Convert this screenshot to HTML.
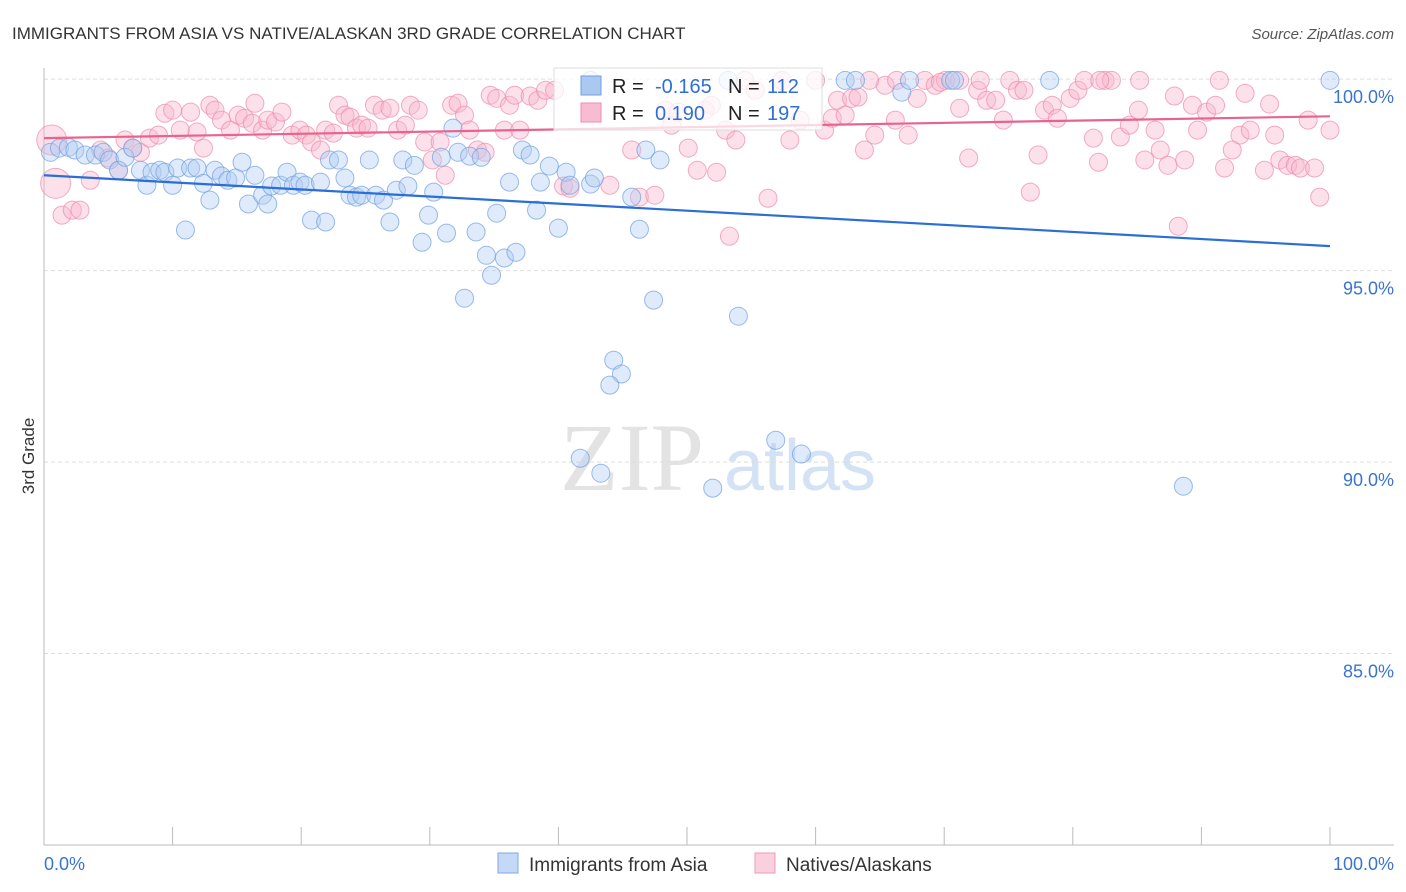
<!DOCTYPE html>
<html><head><meta charset="utf-8"><style>
body{margin:0;background:#fff;font-family:"Liberation Sans",sans-serif;}
#wrap{position:relative;width:1406px;height:892px;overflow:hidden;}
</style></head><body>
<div id="wrap">
<svg id="chart" width="1406" height="892" xmlns="http://www.w3.org/2000/svg">
<text x="12" y="39" font-size="17" fill="#333">IMMIGRANTS FROM ASIA VS NATIVE/ALASKAN 3RD GRADE CORRELATION CHART</text>
<text x="1394" y="39" font-size="15" fill="#555" text-anchor="end" font-style="italic">Source: ZipAtlas.com</text>
<text x="34" y="456" font-size="17" fill="#333" text-anchor="middle" transform="rotate(-90 34 456)">3rd Grade</text>
<g><text x="632" y="490" font-size="96" fill="#ddd" font-family="Liberation Serif,serif" text-anchor="middle" opacity="0.8">ZIP</text><text x="800" y="490" font-size="72" fill="#c9dcf2" text-anchor="middle" opacity="0.8">atlas</text></g>
<g id="grid"></g><g id="axes"></g><g id="pts"></g><g id="lines"></g>
<g>
<rect x="554" y="68" width="268" height="62" fill="#fff" fill-opacity="0.75" stroke="#ddd"/>
<rect x="581" y="76" width="20" height="19" fill="#aac8f0" stroke="#6f9fe0"/>
<text x="612" y="93" font-size="20" fill="#222">R = </text><text x="655" y="93" font-size="20" fill="#2f6fd6">-0.165</text>
<text x="728" y="93" font-size="20" fill="#222">N = </text><text x="767" y="93" font-size="20" fill="#2f6fd6">112</text>
<rect x="581" y="103" width="20" height="19" fill="#f8bcd0" stroke="#ef8bab"/>
<text x="612" y="120" font-size="20" fill="#222">R = </text><text x="655" y="120" font-size="20" fill="#2f6fd6">0.190</text>
<text x="728" y="120" font-size="20" fill="#222">N = </text><text x="767" y="120" font-size="20" fill="#2f6fd6">197</text>
</g>
<g>
<rect x="498" y="853" width="20" height="20" fill="#c4d9f5" stroke="#7fa8e3"/>
<text x="529" y="871" font-size="19" fill="#333">Immigrants from Asia</text>
<rect x="755" y="853" width="20" height="20" fill="#fbd0de" stroke="#ef9ab5"/>
<text x="786" y="871" font-size="19" fill="#333">Natives/Alaskans</text>
</g>
<text x="44" y="870" font-size="18" fill="#3a74d0">0.0%</text>
<text x="1394" y="870" font-size="18" fill="#3a74d0" text-anchor="end">100.0%</text>
</svg></div>
<script>
const yTicks=[100,95,90,85];
const yTickLabels=["100.0%","95.0%","90.0%","85.0%"];
const xTicks=[0,10,20,30,40,50,60,70,80,90,100];
const asiaX=[0.5,1.2,1.9,2.4,3.2,4.0,4.6,5.1,5.8,6.3,6.9,7.5,8.0,8.4,9.0,9.4,10.0,10.4,11.0,11.4,11.9,12.4,12.9,13.3,13.8,14.3,14.9,15.4,15.9,16.4,17.0,17.4,17.7,18.4,18.9,19.4,19.9,20.3,20.8,21.5,21.9,22.2,22.9,23.4,23.8,24.3,24.7,25.3,25.8,26.4,26.9,27.4,27.9,28.3,28.8,29.4,29.9,30.3,30.9,31.3,31.8,32.2,32.7,33.1,33.6,34.0,34.4,34.8,35.2,35.8,36.2,36.7,37.2,37.8,38.3,38.6,39.3,40.0,40.6,40.9,42.5,42.8,44.3,44.9,44.0,45.7,46.3,46.8,47.4,47.9,54.0,41.7,43.3,52.0,56.9,58.9,88.6,62.3,63.1,66.7,67.3,70.5,70.8,78.2,100,53.2,42.5];
const asiaY=[98.09,98.20,98.22,98.15,98.02,98.02,98.09,97.89,97.62,97.96,98.20,97.62,97.23,97.57,97.62,97.57,97.23,97.68,96.06,97.68,97.68,97.28,96.84,97.62,97.47,97.36,97.42,97.83,96.74,97.49,96.97,96.74,97.21,97.23,97.57,97.23,97.31,97.23,96.32,97.31,96.27,97.89,97.89,97.42,96.97,96.92,96.97,97.89,96.97,96.84,96.27,97.10,97.89,97.21,97.75,95.74,96.45,97.05,97.96,95.98,98.72,98.09,94.28,97.99,96.01,97.96,95.40,94.88,96.50,95.33,97.31,95.48,98.15,98.02,96.58,97.31,97.73,96.11,97.57,97.23,97.26,97.42,92.66,92.30,92.01,96.92,96.08,98.15,94.23,97.89,93.81,90.10,89.71,89.32,90.57,90.21,89.37,99.97,99.97,99.66,99.97,99.97,99.97,99.97,99.97,99.97,99.97];
const nativeX=[0.6,0.9,1.4,2.2,2.8,3.6,4.4,5.0,5.8,6.3,6.9,7.5,8.2,8.9,9.4,10.0,10.6,11.4,11.9,12.4,12.9,13.3,13.8,14.5,15.1,15.6,16.2,16.4,17.0,17.4,18.0,18.5,19.3,19.9,20.4,20.8,21.5,21.9,22.5,22.9,23.4,23.8,24.3,24.7,25.2,25.7,26.3,26.9,27.5,28.1,28.5,29.1,29.6,30.2,30.8,31.2,31.7,32.2,32.7,33.1,33.7,34.3,34.7,35.2,35.8,36.2,36.6,37.0,37.8,38.4,39.0,39.7,40.4,40.9,44.0,45.7,46.3,47.5,48.3,48.8,49.3,50.1,50.8,51.4,51.9,52.3,53.0,53.3,53.8,54.5,55.3,56.3,57.4,58.0,58.8,60.0,60.7,61.3,61.7,62.3,62.8,63.3,63.8,64.6,65.4,66.2,67.2,67.9,68.5,69.3,70.1,71.2,71.9,72.6,73.3,74.0,74.6,75.1,75.7,76.2,76.7,77.3,77.8,78.4,78.8,79.8,80.4,80.9,81.6,82.0,82.5,83.0,83.7,84.4,85.1,85.6,86.4,86.8,87.4,87.9,88.2,88.7,89.3,89.7,90.4,91.1,91.4,91.8,92.4,93.0,93.4,93.8,94.9,95.3,95.7,96.1,96.7,97.3,97.7,98.3,98.8,99.2,100,85.2,82.1,72.8,69.7,66.3,64.2,71.2];
const nativeY=[98.41,97.28,96.45,96.58,96.58,97.36,98.15,97.94,97.62,98.41,98.20,98.09,98.46,98.54,99.11,99.19,98.67,99.14,98.62,98.20,99.32,99.19,98.93,98.67,99.06,98.98,98.85,99.37,98.67,98.93,98.88,99.14,98.54,98.67,98.54,98.36,98.15,98.67,98.59,99.32,99.06,99.01,98.72,98.80,98.72,99.32,99.19,99.24,98.67,98.80,99.32,99.19,98.36,97.89,98.36,97.49,99.32,99.37,99.06,98.67,98.15,98.09,99.58,99.50,98.67,99.32,99.58,98.67,99.56,99.45,99.71,99.71,97.21,97.15,97.23,98.15,96.92,96.97,99.19,98.80,99.14,98.20,97.62,99.19,99.32,97.57,98.67,95.90,98.41,99.97,99.71,96.89,99.97,98.41,98.93,99.97,98.67,98.98,99.45,99.06,99.50,99.53,98.15,98.54,99.84,98.93,98.54,99.50,99.97,99.84,99.97,99.24,97.94,99.71,99.45,99.45,98.93,99.97,99.71,99.71,97.05,98.02,99.19,99.32,98.98,99.50,99.71,99.97,98.46,97.83,99.97,99.97,98.49,98.80,99.19,97.89,98.67,98.15,97.75,99.56,96.16,97.89,99.32,98.67,99.14,99.32,99.97,97.68,98.15,98.54,99.63,98.67,97.62,99.35,98.54,97.89,97.75,97.75,97.68,98.93,97.68,96.92,98.67,99.97,99.97,99.97,99.92,99.97,99.97,99.97];
const asiaTrend=[97.49,95.64];
const nativeTrend=[98.46,99.03];
const NS="http://www.w3.org/2000/svg";
const X0=44,X1=1330,Y0=845,Y1=65,YMIN=80,YMAX=100.37;
function sx(v){return X0+(v/100)*(X1-X0);}
function sy(v){return Y0-(v-YMIN)/(YMAX-YMIN)*(Y0-Y1);}
function mk(tag,attrs,parent){const e=document.createElementNS(NS,tag);for(const k in attrs)e.setAttribute(k,attrs[k]);parent.appendChild(e);return e;}
const grid=document.getElementById('grid'),axes=document.getElementById('axes'),pts=document.getElementById('pts'),lines=document.getElementById('lines');
yTicks.forEach((t,i)=>{
 const l=mk('line',{x1:X0,x2:1394,y1:sy(t),y2:sy(t),stroke:'#ddd','stroke-dasharray':'4,3'},grid);
 
 
 const tx=mk('text',{x:1394,y:sy(t)+24,'font-size':18,fill:'#3a74d0','text-anchor':'end'},axes);
 tx.textContent=yTickLabels[i];
 
 
});
const ya=mk('line',{x1:X0,x2:X0,y1:68,y2:Y0,stroke:'#bbb'},axes);


const xa=mk('line',{x1:X0,x2:1394,y1:Y0,y2:Y0,stroke:'#bbb'},axes);


xTicks.forEach(t=>{
 const l=mk('line',{x1:sx(t),x2:sx(t),y1:Y0-18,y2:Y0,stroke:'#bbb'},axes);
 
 
});
function drawSeries(xs,ys,fill,stroke,name){
 xs.forEach((x,i)=>{
  const big=(name==='native-point'&&i<2);
  const c=mk('circle',{cx:sx(x),cy:sy(ys[i]),r:big?15:9,fill:fill,'fill-opacity':0.42,stroke:stroke,'stroke-opacity':0.7,'stroke-width':1},pts);
  
  
 });
}
drawSeries(nativeX,nativeY,'#f8b8cc','#ee8aaa','native-point');
drawSeries(asiaX,asiaY,'#b3cdf2','#6f9fe0','asia-point');
const la=mk('line',{x1:sx(0),x2:sx(100),y1:sy(asiaTrend[0]),y2:sy(asiaTrend[1]),stroke:'#2a6ed6','stroke-width':2.2},lines);


const ln=mk('line',{x1:sx(0),x2:sx(100),y1:sy(nativeTrend[0]),y2:sy(nativeTrend[1]),stroke:'#e8648e','stroke-width':2.2},lines);


</script>
</body></html>
